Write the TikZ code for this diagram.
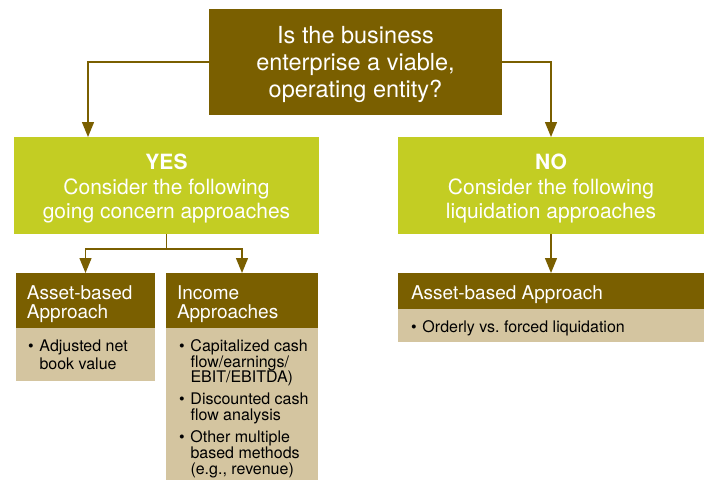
\documentclass[tikz,border=0pt]{standalone}
\usepackage{fontspec}
\setmainfont{TeX Gyre Heros}
\usetikzlibrary{arrows.meta}
\definecolor{brownbox}{HTML}{7A5F00}
\definecolor{limebox}{HTML}{C3CD23}
\definecolor{tanbox}{HTML}{D4C5A0}
% bullet with a fixed hanging indent
\newcommand\bulletitem{\makebox[11.5pt][l]{\textbullet}}
\newcommand\hang{\hspace*{11.5pt}}
\begin{document}
\begin{tikzpicture}[x=1pt,y=-1pt,
  box/.style={rectangle, anchor=north west, inner sep=0pt, outer sep=0pt},
  question/.style={box, fill=brownbox},
  choice/.style={box, fill=limebox},
  head/.style={box, fill=brownbox},
  body/.style={box, fill=tanbox},
  txt/.style={inner sep=0pt, outer sep=0pt},
  qtext/.style={txt, anchor=north, text=white, align=center,
    font=\fontsize{23.5}{27}\selectfont},
  ctext/.style={txt, anchor=north, text=white, align=center,
    font=\fontsize{21}{24.5}\selectfont},
  htext/.style={txt, anchor=north west, text=white, align=left,
    font=\fontsize{19}{19}\selectfont},
  btext/.style={txt, anchor=north west, text=black, align=left,
    font=\fontsize{16}{15.7}\selectfont},
  link/.style={draw=brownbox, line width=1.3pt},
  arr/.style={link, -{Triangle[length=15pt,width=12pt]}}
]
\useasboundingbox (0,0) rectangle (709,480);

% question
\node[question, minimum width=293pt, minimum height=106pt] (q) at (209,9) {};
\node[qtext] (qt) at (355.5,26) {Is the business\\enterprise a viable,\\operating entity?};

% the two answers
\node[choice, minimum width=305pt, minimum height=97pt] (yes) at (14,137) {};
\node[ctext] (yest) at (166.5,154)
  {\textbf{YES}\\Consider the following\\going concern approaches};
\node[choice, minimum width=306pt, minimum height=97pt] (no) at (398,137) {};
\node[ctext] (not) at (551,154)
  {\textbf{NO}\\Consider the following\\liquidation approaches};

% going concern approaches
\node[head, minimum width=139pt, minimum height=55pt] (asset) at (16,273) {};
\node[htext] (assett) at (27,285.3) {Asset-based\\Approach};
\node[body, minimum width=139pt, minimum height=53pt] (assetbody) at (16,328) {};
\node[btext, font=\fontsize{16}{18}\selectfont] (assetbodyt) at (28,339.5)
  {\bulletitem Adjusted net\\\hang book value};

\node[head, minimum width=152pt, minimum height=55pt] (income) at (166,273) {};
\node[htext] (incomet) at (177,285.3) {Income\\Approaches};
\node[body, minimum width=152pt, minimum height=152pt] (incomebody) at (166,328) {};
\node[btext] (incomebodyt) at (179,339.5)
  {\bulletitem Capitalized cash\\\hang flow/earnings/\\\hang EBIT/EBITDA)\\[6pt]
   \bulletitem Discounted cash\\\hang flow analysis\\[7pt]
   \bulletitem Other multiple\\\hang based methods\\\hang (e.g., revenue)};

% liquidation approach
\node[head, minimum width=306pt, minimum height=36pt] (assetR) at (398,273) {};
\node[htext] (assetRt) at (411,285.3) {Asset-based Approach};
\node[body, minimum width=306pt, minimum height=33pt] (assetRbody) at (398,309) {};
\node[btext] (assetRbodyt) at (411,320.2) {\bulletitem Orderly vs.\ forced liquidation};

% connectors
\coordinate (yesin) at (88,137);
\draw[arr] (q.west) -| (yesin);
\draw[arr] (q.east) -| (no.north);
\draw[link] (yes.south) -- ++(0,15) coordinate (split);
\draw[arr] (split) -| (asset.north);
\draw[arr] (split) -| (income.north);
\draw[arr] (no.south) -- (assetR.north);
\end{tikzpicture}
\end{document}
